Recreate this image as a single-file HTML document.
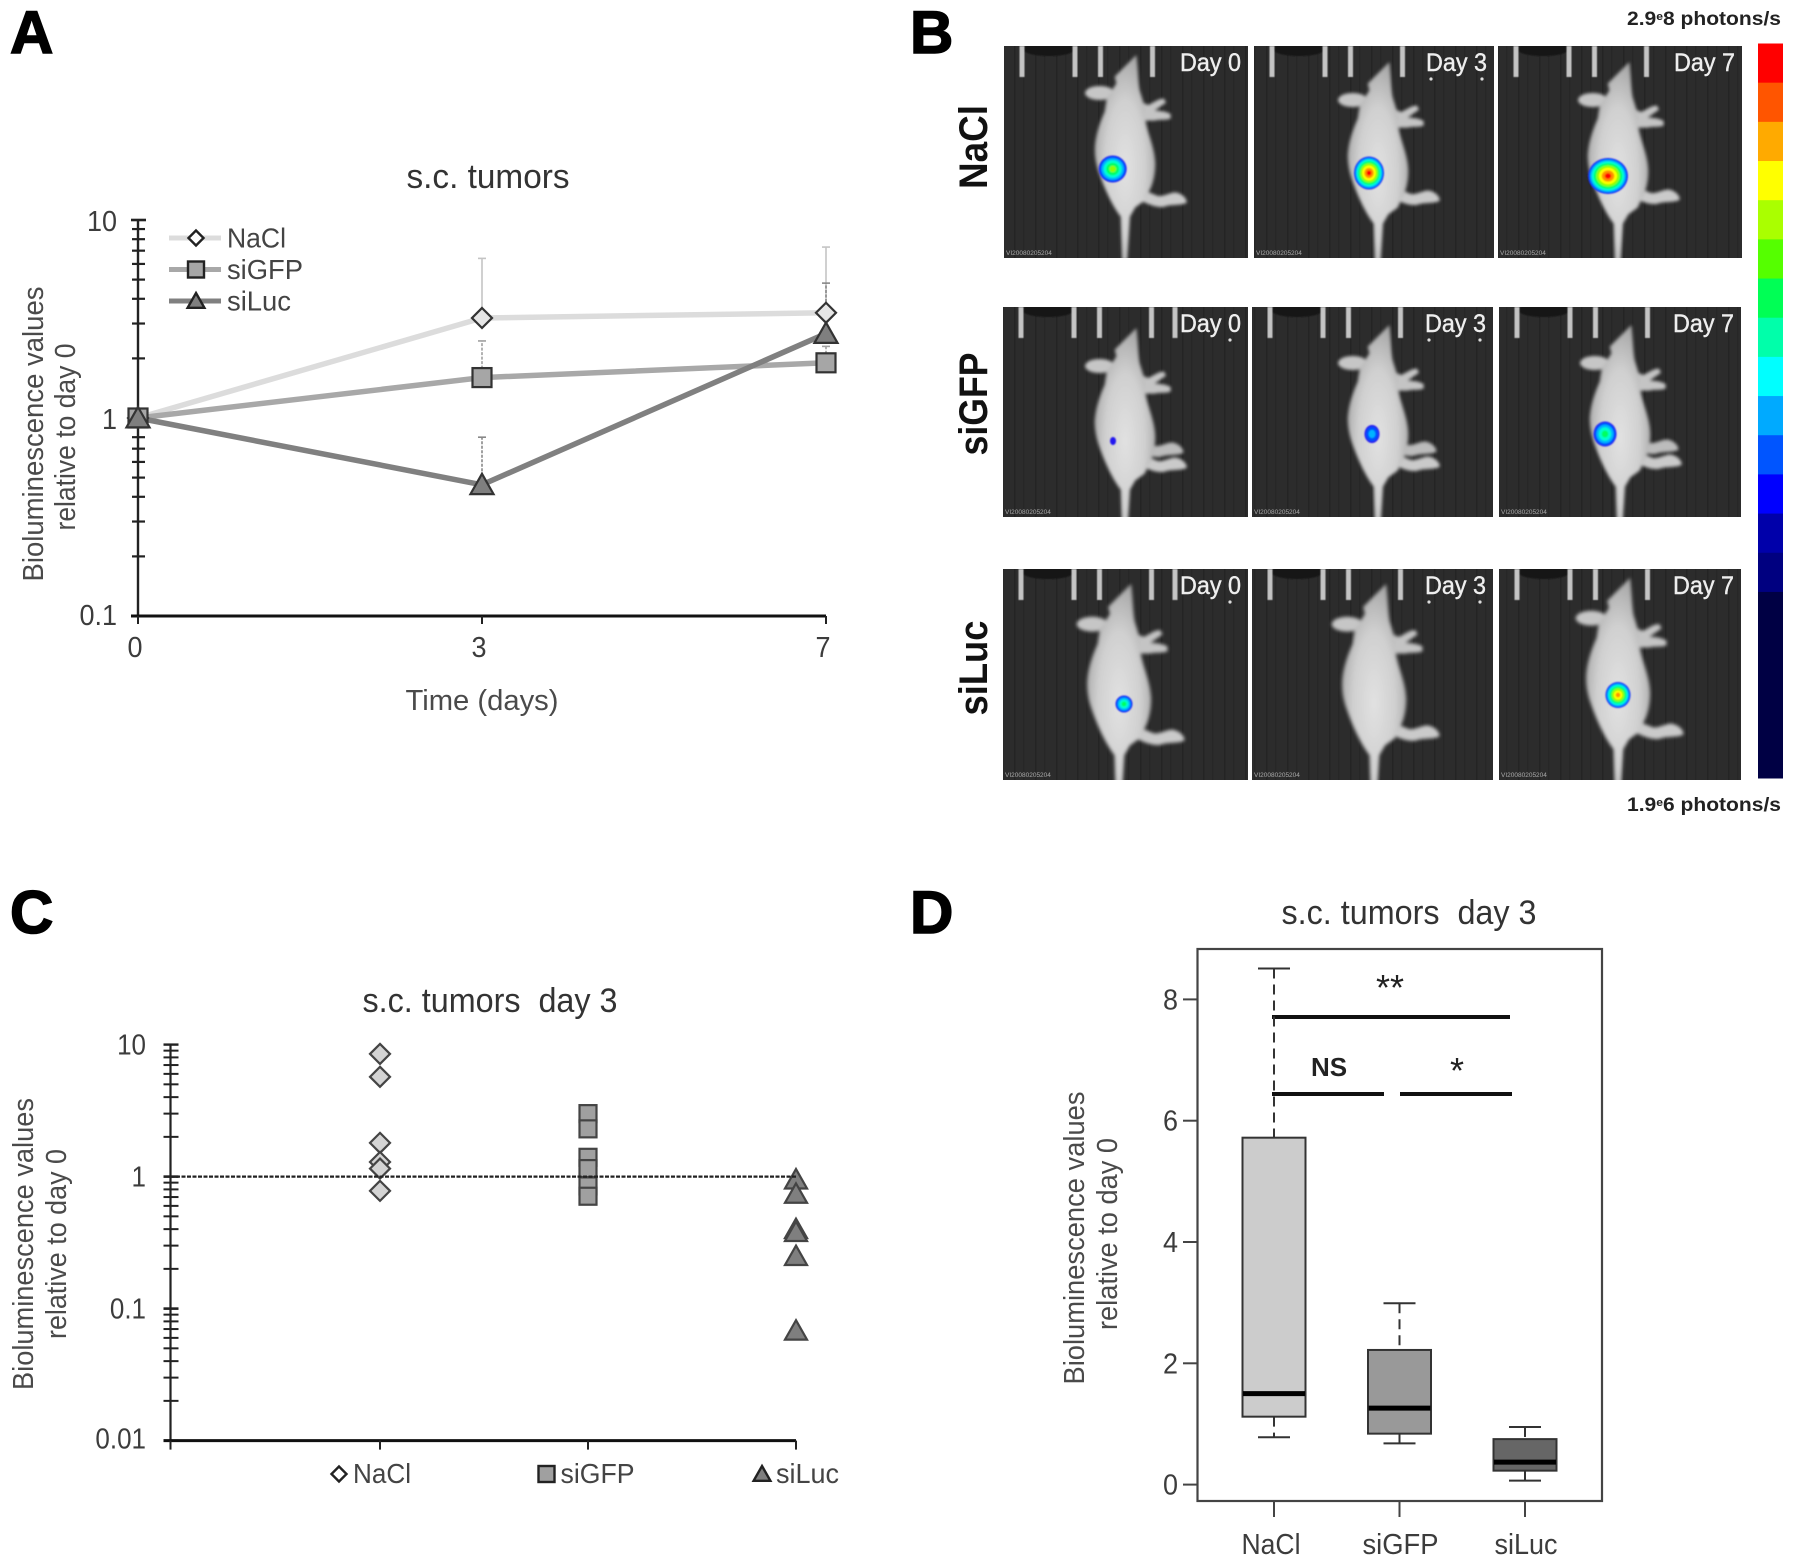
<!DOCTYPE html>
<html lang="en">
<head>
<meta charset="utf-8">
<title>Bioluminescence of s.c. tumors</title>
<style>
html,body{margin:0;padding:0;background:#fff;}
svg{display:block;font-family:"Liberation Sans",sans-serif;}
.tick{font-size:29px;fill:#3c3c3c;}
.ttl{font-size:34px;fill:#333;}
.axt{font-size:29px;fill:#4a4a4a;}
.leg{font-size:28px;fill:#444;}
.pl{font-size:60px;font-weight:bold;fill:#000;stroke:#000;stroke-width:1.5px;}
.row{font-size:40px;font-weight:bold;fill:#111;}
.ph{font-size:19px;font-weight:bold;fill:#222;}
.day{font-size:25px;fill:#eee;stroke:#eee;stroke-width:.4px;}
</style>
</head>
<body>
<svg id="fig" xmlns="http://www.w3.org/2000/svg" width="1795" height="1566" viewBox="0 0 1795 1566">
  <defs>
    <pattern id="stripes" width="21" height="10" patternUnits="userSpaceOnUse">
      <rect width="21" height="10" fill="#2c2c2c"/>
      <rect x="6" width="1.5" height="10" fill="#242424"/>
      <rect x="15" width="1.5" height="10" fill="#272727"/>
    </pattern>
    <radialGradient id="mouse-fill" cx=".5" cy=".55" r=".55">
      <stop offset="0" stop-color="#e2e2e2"/>
      <stop offset=".6" stop-color="#d0d0d0"/>
      <stop offset="1" stop-color="#a8a8a8"/>
    </radialGradient>
    <filter id="soft" x="-15%" y="-15%" width="130%" height="130%"><feGaussianBlur stdDeviation="5"/></filter>
    <filter id="soft2" x="-20%" y="-20%" width="140%" height="140%"><feGaussianBlur stdDeviation=".7"/></filter>
    <filter id="soft3" x="-30%" y="-30%" width="160%" height="160%"><feGaussianBlur stdDeviation=".6"/></filter>
    <path id="mouse-body" d="M415,45 C420,80 420,120 425,150 L440,200 L442,238 C448,280 470,320 472,370 C472,410 462,440 450,460 L440,482 L412,502 L396,530 L388,660 L372,660 L368,530 C345,500 320,450 300,390 C285,340 285,295 320,215 L326,176 L355,130 L350,110 Z"/>
    <ellipse id="mouse-ear" cx="305" cy="159" rx="44" ry="21"/>
    <path id="mouse-arm" d="M428,185 L450,195 C465,190 480,175 498,176 L504,188 C490,198 480,205 470,212 C490,212 505,215 518,222 L518,236 C500,242 480,238 470,242 L436,242 Z"/>
    <path id="mouse-leg" d="M440,452 L480,468 C500,470 520,455 535,458 C555,462 568,478 566,488 C550,498 520,492 500,500 C480,505 455,495 428,482 Z"/>
  </defs>

  <g id="panelA">
    <text class="pl" x="10" y="53">A</text>
    <text class="ttl" x="488" y="188" text-anchor="middle" textLength="163" lengthAdjust="spacingAndGlyphs">s.c. tumors</text>
    <text class="axt" transform="translate(43 434) rotate(-90)" text-anchor="middle" textLength="295" lengthAdjust="spacingAndGlyphs">Bioluminescence values</text>
    <text class="axt" transform="translate(75 437) rotate(-90)" text-anchor="middle" textLength="187" lengthAdjust="spacingAndGlyphs">relative to day 0</text>
    <text class="axt" x="482" y="710" text-anchor="middle" textLength="153" lengthAdjust="spacingAndGlyphs">Time (days)</text>
  </g>

  <g id="panelB">
    <text class="pl" x="910" y="53">B</text>
    <text class="row" transform="translate(987 147) rotate(-90)" text-anchor="middle" textLength="84" lengthAdjust="spacingAndGlyphs">NaCl</text>
    <text class="row" transform="translate(987 404) rotate(-90)" text-anchor="middle" textLength="103" lengthAdjust="spacingAndGlyphs">siGFP</text>
    <text class="row" transform="translate(987 668) rotate(-90)" text-anchor="middle" textLength="95" lengthAdjust="spacingAndGlyphs">siLuc</text>
    <text class="ph" x="1627" y="25" textLength="154" lengthAdjust="spacingAndGlyphs">2.9<tspan font-size="11" dy="-5">e</tspan><tspan dy="5">8 photons/s</tspan></text>
    <text class="ph" x="1627" y="811" textLength="154" lengthAdjust="spacingAndGlyphs">1.9<tspan font-size="11" dy="-5">e</tspan><tspan dy="5">6 photons/s</tspan></text>
  </g>

  <g id="panelC">
    <text class="pl" x="10" y="933">C</text>
    <text class="ttl" x="490" y="1012" text-anchor="middle" textLength="255" lengthAdjust="spacingAndGlyphs" xml:space="preserve">s.c. tumors  day 3</text>
    <text class="axt" transform="translate(33 1244) rotate(-90)" text-anchor="middle" textLength="292" lengthAdjust="spacingAndGlyphs">Bioluminescence values</text>
    <text class="axt" transform="translate(66 1244) rotate(-90)" text-anchor="middle" textLength="190" lengthAdjust="spacingAndGlyphs">relative to day 0</text>
  </g>

  <g id="panelD">
    <text class="pl" x="910" y="933">D</text>
    <text class="ttl" x="1409" y="924" text-anchor="middle" textLength="255" lengthAdjust="spacingAndGlyphs" xml:space="preserve">s.c. tumors  day 3</text>
    <text class="axt" transform="translate(1084 1238) rotate(-90)" text-anchor="middle" textLength="293" lengthAdjust="spacingAndGlyphs">Bioluminescence values</text>
    <text class="axt" transform="translate(1117 1234) rotate(-90)" text-anchor="middle" textLength="192" lengthAdjust="spacingAndGlyphs">relative to day 0</text>
    <rect x="1197.5" y="949" width="404.5" height="552" fill="none" stroke="#444" stroke-width="2.2"/>
    <line x1="1272" x2="1510" y1="1017" y2="1017" stroke="#111" stroke-width="4"/>
    <line x1="1272" x2="1384" y1="1094" y2="1094" stroke="#111" stroke-width="4"/>
    <line x1="1400" x2="1512" y1="1094" y2="1094" stroke="#111" stroke-width="4"/>
    <text x="1390" y="1000" font-size="36" fill="#222" text-anchor="middle">**</text>
    <text x="1329" y="1076" font-size="26" font-weight="bold" fill="#222" text-anchor="middle">NS</text>
    <text x="1457" y="1083" font-size="36" fill="#222" text-anchor="middle">*</text>
  </g>
</svg>

<script>
/* ---------- Panel A data ---------- */
const lineDays = ["0", "3", "7"];
const lineSeriesNames = ["NaCl", "siGFP", "siLuc"];
const naclMeans = [1, 3.2, 3.4];
const sigfpMeans = [1, 1.6, 1.9];
const silucMeans = [1, 0.46, 2.67];
const naclErrorTops = [1, 6.4, 7.3];
const sigfpErrorTops = [1, 2.45, 2.3];
const silucErrorTops = [1, 0.8, 4.8];
const lineYTickLabels = ["10", "1", "0.1"];
const lineYTickValues = [10, 1, 0.1];

/* ---------- Panel C data ---------- */
const dotGroups = ["NaCl", "siGFP", "siLuc"];
const dotNacl = [8.5, 5.7, 1.8, 1.29, 1.15, 0.78];
const dotSigfp = [3.0, 2.3, 1.4, 1.15, 0.85, 0.71];
const dotSiluc = [0.95, 0.74, 0.4, 0.38, 0.25, 0.068];
const dotYTickLabels = ["10", "1", "0.1", "0.01"];
const dotYTickValues = [10, 1, 0.1, 0.01];

/* ---------- Panel D data ---------- */
const boxGroups = ["NaCl", "siGFP", "siLuc"];
const boxWhiskerHigh = [8.51, 2.99, 0.95];
const boxQ3 = [5.72, 2.22, 0.75];
const boxMedian = [1.5, 1.26, 0.37];
const boxQ1 = [1.12, 0.84, 0.23];
const boxWhiskerLow = [0.78, 0.68, 0.065];
const boxYTicks = [0, 2, 4, 6, 8];

/* ---------- Panel B colour scale ---------- */
const scaleColors = ["#ff0000","#ff5500","#ffaa00","#ffff00","#aaff00","#55ff00","#00ff55","#00ffaa","#00ffff","#00aaff","#0055ff","#0000ff","#0000aa","#000080","#000044"];
const scaleWeights = [1,1,1,1,1,1,1,1,1,1,1,1,1,1,4.75];
const ringColors = ["#2418f0","#0050ff","#00b4ff","#00ffd0","#00ff60","#90ff00","#ffff00","#ff9000","#ff0000"];

const NS = "http://www.w3.org/2000/svg";
function mk(parent, tag, attrs, text) {
  const el = document.createElementNS(NS, tag);
  for (const k in attrs) el.setAttribute(k, attrs[k]);
  if (text !== undefined) el.textContent = text;
  parent.appendChild(el);
  return el;
}
function log10(v) { return Math.log(v) / Math.LN10; }
function numW(t, fs) {
  let w = 0;
  for (const ch of t) w += (ch === "." ? .278 : .556);
  return w * fs;
}

function marker(parent, kind, x, y, r, fill, stroke, sw) {
  let el;
  if (kind === "diamond") {
    el = mk(parent, "polygon", {points: `${x},${y-r} ${x+r},${y} ${x},${y+r} ${x-r},${y}`, fill: fill, stroke: stroke, "stroke-width": sw});
  } else if (kind === "square") {
    el = mk(parent, "rect", {x: x-r, y: y-r, width: 2*r, height: 2*r, fill: fill, stroke: stroke, "stroke-width": sw});
  } else {
    el = mk(parent, "polygon", {points: `${x},${y-r} ${x+r*1.05},${y+r*.85} ${x-r*1.05},${y+r*.85}`, fill: fill, stroke: stroke, "stroke-width": sw});
  }
  return el;
}

/* ---------- Panel A ---------- */
(function () {
  const g = document.getElementById("panelA");
  const xA = i => 138 + 344 * i;
  const yA = v => 418 - 198 * log10(v);
  const means = [naclMeans, sigfpMeans, silucMeans];
  const tops = [naclErrorTops, sigfpErrorTops, silucErrorTops];
  const colors = ["#dcdcdc", "#a8a8a8", "#808080"];
  const errColors = ["#c4c4c4", "#a0a0a0", "#888"];
  const fills = ["#e6e6e6", "#a6a6a6", "#7f7f7f"];
  const kinds = ["diamond", "square", "triangle"];
  const radii = [10, 9.5, 11];

  for (let d = 0.1; d < 9.99; d *= 10) {
    for (let m = 1; m <= 10; m++) {
      const v = d * m;
      const major = m === 1 || m === 10;
      const tick = mk(g, "line", {x1: major ? 131 : 132, x2: major ? 146 : 145, y1: yA(v), y2: yA(v), stroke: "#222", "stroke-width": major ? 2.6 : 2.2});
      
      
    }
  }
  const yAxis = mk(g, "line", {x1: xA(0), x2: xA(0), y1: yA(10), y2: yA(0.1) + 1, stroke: "#222", "stroke-width": 2.4});
  
  
  const xAxis = mk(g, "line", {x1: 131, x2: xA(2), y1: yA(0.1), y2: yA(0.1), stroke: "#111", "stroke-width": 3});
  
  

  lineYTickLabels.forEach((t, i) => {
    const lab = mk(g, "text", {class: "tick", x: 117, y: yA(lineYTickValues[i]) + (i === 2 ? 9 : 11), "text-anchor": "end", textLength: numW(t, 27), lengthAdjust: "spacingAndGlyphs"}, t);
    
    
  });
  lineDays.forEach((t, i) => {
    const tick = mk(g, "line", {x1: xA(i), x2: xA(i), y1: yA(0.1), y2: yA(0.1) + 8, stroke: "#222", "stroke-width": 2});
    
    
    const lab = mk(g, "text", {class: "tick", x: xA(i) - 3, y: 657, "text-anchor": "middle", textLength: numW(t, 27), lengthAdjust: "spacingAndGlyphs"}, t);
    
    
  });

  means.forEach((series, s) => {
    series.forEach((v, i) => {
      if (i === 0) return;
      const err = mk(g, "line", {x1: xA(i), x2: xA(i), y1: yA(v), y2: yA(tops[s][i]), stroke: errColors[s], "stroke-width": 1.6, "stroke-dasharray": s === 0 ? "none" : "3 1.5"});
      
      
      const cap = mk(g, "line", {x1: xA(i) - 4, x2: xA(i) + 4, y1: yA(tops[s][i]), y2: yA(tops[s][i]), stroke: errColors[s], "stroke-width": 1.6});
      
      
    });
  });
  means.forEach((series, s) => {
    const poly = mk(g, "polyline", {points: series.map((v, i) => xA(i) + "," + yA(v)).join(" "), fill: "none", stroke: colors[s], "stroke-width": 5.5, "stroke-linejoin": "round"});
    
    
  });
  means.forEach((series, s) => {
    series.forEach((v, i) => {
      const pt = marker(g, kinds[s], xA(i), yA(v), radii[s], fills[s], "#333", 2.2);
      
      
    });
  });

  lineSeriesNames.forEach((name, s) => {
    const ly = 238 + s * 31.5;
    const sw = mk(g, "line", {x1: 169, x2: 221, y1: ly, y2: ly, stroke: colors[s], "stroke-width": 5});
    
    
    const mm = marker(g, kinds[s], 196, ly, s === 0 ? 7.5 : 8, s === 0 ? "#fff" : fills[s], "#222", 2.4);
    
    
    const tx = mk(g, "text", {class: "leg", x: 227, y: ly + 9.5, textLength: [59, 76, 64][s], lengthAdjust: "spacingAndGlyphs"}, name);
    
    
  });
})();

/* ---------- Panel B ---------- */
(function () {
  const g = document.getElementById("panelB");
  const rowNames = ["nacl", "sigfp", "siluc"];
  const days = ["0", "3", "7"];
  const frames = [
    [[1004,46,244,212],[1254,46,240,212],[1498,46,244,212]],
    [[1003,307,245,210],[1252,307,241,210],[1499,307,242,210]],
    [[1003,569,245,211],[1252,569,241,211],[1499,569,242,211]]
  ];
  const mouseShift = [
    [[-2,0,1],[251,7,1],[491,7,1]],
    [[-2,273,1],[251,270,1],[493,270,1]],
    [[-8,528,1.06],[247,528,1.06],[491,522,1.06]]
  ];
  const legLift = [
    [0,-9,-10],
    [-8,-6,-8],
    [0,-4,0]
  ];
  const spots = [
    [[1112.7,169,14,13.5,6],[1369,173,15,16.5,9],[1608,176,20,18,9]],
    [[1113,441,3,4,1],[1372,434,7.5,9,3],[1605,434,11.5,12.5,5]],
    [[1124,704,8.5,8.5,5],null,[1618,695,12.5,13,8]]
  ];
  const rulers = [18, 71, 96.5, 148.5];

  frames.forEach((row, r) => row.forEach((f, c) => {
    const id = "clip-" + r + "-" + c;
    const defs = mk(g, "clipPath", {id: id});
    mk(defs, "rect", {x: f[0], y: f[1], width: f[2], height: f[3]});

    const panel = mk(g, "g", {"clip-path": "url(#" + id + ")"});
    
    

    const bg = mk(panel, "rect", {x: f[0], y: f[1], width: f[2], height: f[3], fill: "url(#stripes)"});
    
    
    const band = mk(panel, "ellipse", {cx: f[0] + 45, cy: f[1] + 3, rx: 26, ry: 7, fill: "#151515", filter: "url(#soft3)"});
    
    

    const marks = rulers.concat(r > 0 && c === 0 ? [172] : []);
    marks.forEach(dx => {
      const bar = mk(panel, "rect", {x: f[0] + dx - 2.5, y: f[1], width: 5, height: 31, fill: "#c4c4c4", filter: "url(#soft3)"});
      
      
    });

    const m = mouseShift[r][c];
    const mouse = mk(panel, "g", {transform: `translate(${1000 + m[0]} ${40 + m[1]}) translate(126 0) scale(${m[2]/3}) translate(-378 0)`, filter: "url(#soft)"});
    
    
    mk(mouse, "use", {href: "#mouse-ear", fill: "#c6c6c6"});
    mk(mouse, "use", {href: "#mouse-arm", fill: "#c4c4c4"});
    mk(mouse, "use", {href: "#mouse-leg", fill: "#cacaca", transform: `translate(0 ${legLift[r][c] * 3})`});
    if (r === 1) {
      mk(mouse, "use", {href: "#mouse-leg", fill: "#bcbcbc", transform: `translate(-10 ${legLift[r][c] * 3 - 45})`});
    }
    mk(mouse, "use", {href: "#mouse-body", fill: "url(#mouse-fill)"});

    const s = spots[r][c];
    if (s) {
      const spot = mk(panel, "g", {filter: "url(#soft2)"});
      
      
      for (let i = 0; i < s[4]; i++) {
        const t = 1 - Math.pow(i / s[4], 1.5);
        mk(spot, "ellipse", {cx: s[0], cy: s[1], rx: s[2] * t, ry: s[3] * t, fill: ringColors[i]});
      }
    }

    const day = mk(panel, "text", {class: "day", x: f[0] + f[2] - 7, y: f[1] + 25, "text-anchor": "end", textLength: 61, lengthAdjust: "spacingAndGlyphs"}, "Day " + days[c]);
    
    

    if (c === 1 || r > 0 && c === 0) {
      (c === 1 ? [177, 228] : [227]).forEach(dx => {
        const dot = mk(panel, "circle", {cx: f[0] + dx, cy: f[1] + 33, r: 1.6, fill: "#ddd"});
        
        
      });
    }
    const idt = mk(panel, "text", {x: f[0] + 2, y: f[1] + f[3] - 3, "font-size": 6.5, fill: "#aaa"}, "VI20080205204");
    
    
  }));

  const total = scaleWeights.reduce((a, b) => a + b, 0);
  const bar = mk(g, "g", {});
  
  
  let acc = 0;
  scaleColors.forEach((col, i) => {
    const top = 43.5 + acc / total * 734.5;
    const h = scaleWeights[i] / total * 734.5;
    const cell = mk(bar, "rect", {x: 1758, y: top, width: 25, height: h + .5, fill: col});
    
    
    acc += scaleWeights[i];
  });
})();

/* ---------- Panel C ---------- */
(function () {
  const g = document.getElementById("panelC");
  const xC = i => 380 + 208 * i;
  const yC = v => 1176.6 - 132 * log10(v);
  const left = 170.5;
  for (let d = 0.01; d < 9.9; d *= 10) {
    for (let m = 1; m <= 10; m++) {
      const v = d * m;
      const major = m === 1 || m === 10;
      const tick = mk(g, "line", {x1: left - 7, x2: left + 8, y1: yC(v), y2: yC(v), stroke: "#222", "stroke-width": major ? 2.4 : 2});
      
      
    }
  }
  const yAxis = mk(g, "line", {x1: left, x2: left, y1: yC(10), y2: yC(0.01) + 1, stroke: "#222", "stroke-width": 2.2});
  
  
  const xAxis = mk(g, "line", {x1: left - 7, x2: xC(2), y1: yC(0.01), y2: yC(0.01), stroke: "#111", "stroke-width": 3});
  
  
  const tick0 = mk(g, "line", {x1: left, x2: left, y1: yC(0.01), y2: yC(0.01) + 9, stroke: "#222", "stroke-width": 2});
  
  

  dotYTickLabels.forEach((t, i) => {
    const lab = mk(g, "text", {class: "tick", x: 146, y: yC(dotYTickValues[i]) + (i === 3 ? 8 : 10), "text-anchor": "end", textLength: numW(t, 26), lengthAdjust: "spacingAndGlyphs"}, t);
    
    
  });

  const sets = [dotNacl, dotSigfp, dotSiluc];
  const kinds = ["diamond", "square", "triangle"];
  const fills = ["#d4d4d4", "#a0a0a0", "#7f7f7f"];
  const radii = [10, 8.5, 10.5];
  const legendX = [339, 546.5, 762];
  const legendW = [58, 74, 63];

  sets.forEach((vals, s) => {
    const tick = mk(g, "line", {x1: xC(s), x2: xC(s), y1: yC(0.01), y2: yC(0.01) + 9, stroke: "#222", "stroke-width": 2});
    
    
    vals.forEach(v => {
      const pt = marker(g, kinds[s], xC(s), yC(v), radii[s], fills[s], "#444", 2.2);
      
      
    });
    const lm = marker(g, kinds[s], legendX[s], 1474, s === 0 ? 7.5 : 8, s === 0 ? "#fff" : fills[s], "#222", 2.4);
    
    
    const lt = mk(g, "text", {class: "leg", x: legendX[s] + 14, y: 1483, textLength: legendW[s], lengthAdjust: "spacingAndGlyphs"}, dotGroups[s]);
    
    
  });

  const ref = mk(g, "line", {x1: left, x2: xC(2), y1: yC(1), y2: yC(1), stroke: "#222", "stroke-width": 2.2, "stroke-dasharray": "4 1.5"});
  
  
})();

/* ---------- Panel D ---------- */
(function () {
  const g = document.getElementById("panelD");
  const xD = i => 1274 + 125.5 * i;
  const yD = v => 1484.6 - 60.65 * v;
  const fills = ["#cccccc", "#999999", "#666666"];
  const labelW = [59, 76, 63];

  boxYTicks.forEach(v => {
    const tick = mk(g, "line", {x1: 1183, x2: 1197, y1: yD(v), y2: yD(v), stroke: "#444", "stroke-width": 2});
    
    
    const lab = mk(g, "text", {class: "tick", x: 1178, y: yD(v) + 10, "text-anchor": "end", textLength: numW(String(v), 27), lengthAdjust: "spacingAndGlyphs"}, String(v));
    
    
  });

  boxGroups.forEach((name, i) => {
    const x = xD(i);
    const key = name.toLowerCase();
    const tick = mk(g, "line", {x1: x, x2: x, y1: 1501, y2: 1517, stroke: "#444", "stroke-width": 2});
    
    
    const lab = mk(g, "text", {class: "tick", x: x - (i === 0 ? 3 : -1), y: 1554, "text-anchor": "middle", textLength: labelW[i], lengthAdjust: "spacingAndGlyphs"}, name);
    
    

    const wh = mk(g, "line", {x1: x, x2: x, y1: yD(boxWhiskerHigh[i]), y2: yD(boxQ3[i]), stroke: "#333", "stroke-width": 2, "stroke-dasharray": "10 6"});
    
    
    const wl = mk(g, "line", {x1: x, x2: x, y1: yD(boxQ1[i]), y2: yD(boxWhiskerLow[i]), stroke: "#333", "stroke-width": 2, "stroke-dasharray": "10 6"});
    
    
    const ch = mk(g, "line", {x1: x - 16, x2: x + 16, y1: yD(boxWhiskerHigh[i]), y2: yD(boxWhiskerHigh[i]), stroke: "#333", "stroke-width": 2});
    
    
    const cl = mk(g, "line", {x1: x - 16, x2: x + 16, y1: yD(boxWhiskerLow[i]), y2: yD(boxWhiskerLow[i]), stroke: "#333", "stroke-width": 2});
    
    
    const box = mk(g, "rect", {x: x - 31.5, y: yD(boxQ3[i]), width: 63, height: yD(boxQ1[i]) - yD(boxQ3[i]), fill: fills[i], stroke: "#333", "stroke-width": 2});
    
    
    const med = mk(g, "line", {x1: x - 31, x2: x + 31, y1: yD(boxMedian[i]), y2: yD(boxMedian[i]), stroke: "#000", "stroke-width": 5});
    
    
  });
})();
</script>
</body>
</html>
